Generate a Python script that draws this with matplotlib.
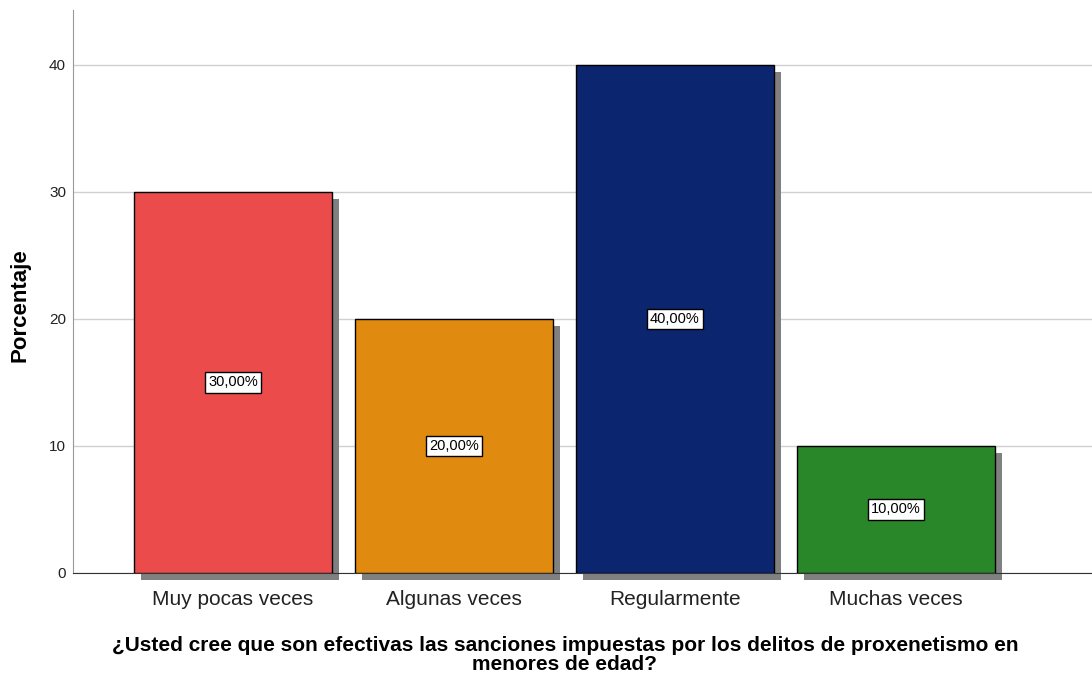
import matplotlib.pyplot as plt

plt.rcParams['font.family'] = ['Liberation Sans', 'DejaVu Sans']

categories = ['Muy pocas veces', 'Algunas veces', 'Regularmente', 'Muchas veces']
values = [30, 20, 40, 10]
colors = ['#EC4B4B', '#E08A10', '#0B266E', '#298629']
xlabel = '¿Usted cree que son efectivas las sanciones impuestas por los delitos de proxenetismo en\nmenores de edad?'

fig = plt.figure(figsize=(10.92, 6.78), dpi=100)
ax = fig.add_axes([73 / 1092, 105 / 678, 1 - 73 / 1092, 563 / 678])

x = list(range(len(categories)))
width = 0.896
# shadow bars, offset right and down
ax.bar([i + 0.032 for i in x], values, width=width, bottom=-0.55,
       color='#808080', zorder=2, clip_on=False)
ax.bar(x, values, width=width, color=colors, edgecolor='black',
       linewidth=1.0, zorder=3)

for i, v in zip(x, values):
    ax.text(i, v / 2, f'{v},00%', ha='center', va='center', fontsize=10.5,
            zorder=4, bbox=dict(boxstyle='square,pad=0.22', fc='white',
                                ec='black', lw=1.0))

ax.set_xlim(-0.724, 3.887)
ax.set_ylim(0, 44.3)
ax.set_yticks([0, 10, 20, 30, 40])
ax.set_xticks(x)
ax.set_xticklabels(categories, fontsize=15, color='#222222')
ax.tick_params(axis='y', labelsize=11, length=0, pad=5, labelcolor='#222222')
ax.tick_params(axis='x', length=3, pad=9)
ax.yaxis.grid(True, color='#d0d0d0', linewidth=1.0, zorder=0)
ax.set_axisbelow(True)
for s in ['top', 'right']:
    ax.spines[s].set_visible(False)
ax.spines['left'].set_color('#999999')
ax.spines['bottom'].set_color('#333333')

fig.text(20 / 1092, 1 - 305 / 678, 'Porcentaje', rotation=90, ha='center',
         va='center', fontsize=16, fontweight='bold')
fig.text(565 / 1092, 1 - 655 / 678, xlabel, ha='center', va='center',
         fontsize=15, fontweight='bold', linespacing=0.95)

fig.savefig('out.png', dpi=100)
